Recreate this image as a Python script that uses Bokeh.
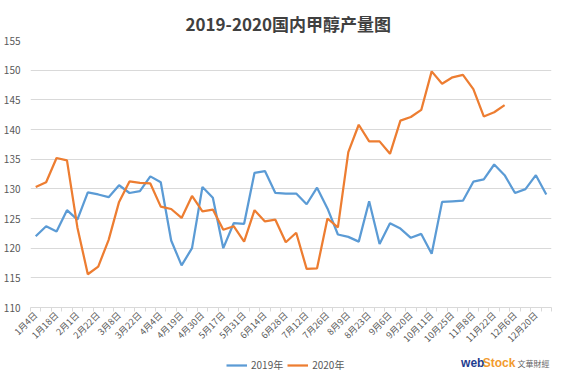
from math import pi
from bokeh.plotting import figure
from bokeh.layouts import column
from bokeh.models import FixedTicker, Legend, LegendItem, Label, Range1d
from bokeh.embed import file_html
from bokeh.resources import INLINE

title_text = "2019-2020国内甲醇产量图"
tick_labels = ["1月4日", "1月18日", "2月1日", "2月22日", "3月8日", "3月22日", "4月4日",
               "4月19日", "4月30日", "5月17日", "5月31日", "6月14日", "6月28日", "7月12日",
               "7月26日", "8月9日", "8月23日", "9月6日", "9月20日", "10月11日", "10月25日",
               "11月8日", "11月22日", "12月6日", "12月20日"]
y_ticks = [110, 115, 120, 125, 130, 135, 140, 145, 150, 155]
series_names = ["2019年", "2020年"]
v2019 = [122.0, 123.7, 122.8, 126.4, 124.8, 129.4, 129.05, 128.6, 130.6, 129.3,
         129.6, 132.1, 131.1, 121.3, 117.1, 120.0, 130.3, 128.5, 120.0, 124.2,
         124.1, 132.7, 133.0, 129.3, 129.2, 129.2, 127.4, 130.2, 126.7, 122.3,
         121.9, 121.1, 127.9, 120.7, 124.2, 123.3, 121.75, 122.4, 119.05, 127.8,
         127.9, 128.0, 131.2, 131.6, 134.1, 132.3, 129.3, 129.95, 132.3, 129.05]
v2020 = [130.3, 131.1, 135.2, 134.8, 123.5, 115.6, 116.9, 121.4, 127.8, 131.25,
         131.0, 130.9, 127.0, 126.6, 125.1, 128.8, 126.2, 126.5, 123.1, 123.7,
         121.1, 126.4, 124.5, 124.8, 121.0, 122.6, 116.5, 116.6, 125.0, 123.5,
         136.2, 140.8, 138.0, 138.0, 135.9, 141.5, 142.1, 143.3, 149.8, 147.7,
         148.8, 149.2, 146.8, 142.2, 142.9, 144.1]

n = len(v2019)
FONT = "Noto Sans CJK SC"
TXT = "#595959"
C19, C20 = "#5b9bd5", "#ed7d31"

p = figure(width=553, height=352, output_backend="svg", toolbar_location=None,
           x_range=Range1d(-0.5, n - 0.5), y_range=Range1d(y_ticks[0], y_ticks[-1]),
           min_border_left=20, min_border_right=2, min_border_top=40, min_border_bottom=45)
p.outline_line_color = None
p.background_fill_color = "white"
p.border_fill_color = "white"

p.title.text = title_text
p.title.align = "left"
p.title.offset = 155
p.title.text_font = FONT
p.title.text_font_size = "17px"
p.title.text_font_style = "bold"
p.title.text_color = "#404040"

r19 = p.line(list(range(len(v2019))), v2019, line_color=C19, line_width=2.25)
r20 = p.line(list(range(len(v2020))), v2020, line_color=C20, line_width=2.25)

p.xgrid.visible = False
p.ygrid.grid_line_color = "#d9d9d9"
p.ygrid.grid_line_width = 1

xa = p.xaxis[0]
xa.ticker = FixedTicker(ticks=list(range(0, n, 2)), minor_ticks=[i - 0.5 for i in range(n + 1)])
xa.major_label_overrides = {2 * k: lab for k, lab in enumerate(tick_labels)}
xa.major_label_orientation = pi / 4
xa.major_tick_out = 0
xa.major_tick_in = 0
xa.minor_tick_out = 4
xa.minor_tick_in = 0
xa.minor_tick_line_color = "#d9d9d9"
xa.axis_line_color = "#d9d9d9"
xa.major_label_text_font = FONT
xa.major_label_text_font_size = "9px"
xa.major_label_text_color = TXT
xa.major_label_standoff = 2

ya = p.yaxis[0]
ya.ticker = FixedTicker(ticks=y_ticks)
ya.axis_line_color = None
ya.major_tick_line_color = None
ya.minor_tick_line_color = None
ya.major_label_text_font = FONT
ya.major_label_text_font_size = "10px"
ya.major_label_text_color = TXT
ya.major_label_standoff = 4

# footer: legend and logo
FH = 20
foot = figure(width=553, height=FH, output_backend="svg", toolbar_location=None,
              x_range=Range1d(0, 553), y_range=Range1d(0, FH), min_border=0)
foot.axis.visible = False
foot.grid.visible = False
foot.outline_line_color = None
foot.border_fill_color = "white"
# the series are drawn off-frame here (clipped), only so the legend can sample their styles
g19 = foot.line(list(range(len(v2019))), v2019, line_color=C19, line_width=2.25)
g20 = foot.line(list(range(len(v2020))), v2020, line_color=C20, line_width=2.25)

legend = Legend(items=[LegendItem(label=series_names[0], renderers=[g19]),
                       LegendItem(label=series_names[1], renderers=[g20])],
                orientation="horizontal", location=(196, 0),
                border_line_color=None, background_fill_alpha=0,
                label_text_font=FONT, label_text_font_size="10px", label_text_color=TXT,
                glyph_width=21, glyph_height=10, label_height=10, spacing=4,
                padding=0, margin=0, label_standoff=4)
foot.add_layout(legend)

foot.add_layout(Label(x=457, y=10, text="web", text_baseline="middle",
                      text_font="Liberation Sans", text_font_size="12px", text_font_style="bold",
                      text_color="#1f3d8f"))
foot.add_layout(Label(x=480, y=10, text="Stock", text_baseline="middle",
                      text_font="Liberation Sans", text_font_size="12px", text_font_style="bold",
                      text_color="#f29a2e"))
foot.add_layout(Label(x=517, y=9, text="文華財經", text_baseline="middle",
                      text_font=FONT, text_font_size="8px", text_color="#666666"))

layout = column(p, foot, spacing=0)
open("out.html", "w").write(file_html(layout, INLINE))
